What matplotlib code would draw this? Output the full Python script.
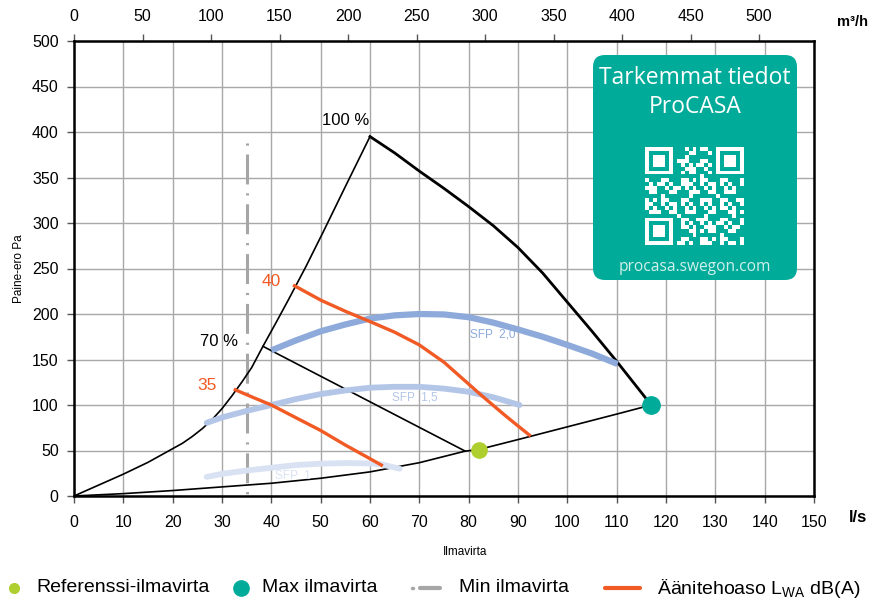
import numpy as np
import matplotlib
matplotlib.use("Agg")
import matplotlib.pyplot as plt
from matplotlib.patches import FancyBboxPatch

plt.rcParams['font.family'] = ['Liberation Sans', 'DejaVu Sans']

# ---------------- data ----------------
x_ticks = list(range(0, 151, 10))
y_ticks = list(range(0, 501, 50))
top_ticks = list(range(0, 501, 50))

rise_x = [0, 2.5, 5, 7.5, 10, 12.5, 15, 17.5, 20, 22, 24, 26, 28, 30, 32, 34, 36, 38.3, 41, 43.4, 47, 50.5, 55, 60]
rise_y = [0, 6, 12, 18, 24, 30.5, 37, 44.5, 52, 58, 65.5, 74, 84, 96, 110, 125, 141, 164.5, 191, 215, 252, 290, 340, 395]

fan100_x = [60, 65, 70, 75, 80, 85, 90, 95, 100, 105, 110, 113.5, 117]
fan100_y = [395, 377, 357, 338, 318, 297, 273, 245, 213, 181, 148, 124, 100]

sys_x = [0, 10, 20, 30, 40, 50, 60, 70, 79.3, 82, 90, 100, 110, 117]
sys_y = [0, 2.6, 6, 10, 14, 19.5, 26.5, 36.6, 49.3, 51, 62, 76, 90, 100]

fan70_x = [38.3, 79.3]
fan70_y = [164.5, 49.3]

lw40_x = [44.7, 50.1, 55, 60, 65, 70, 75, 80, 82.5, 85, 87.5, 90, 92.3]
lw40_y = [231, 215, 203, 191.7, 180, 166, 147, 123, 111, 99.5, 88, 77, 67]
lw35_x = [32.7, 36, 40, 45, 50, 55, 60, 62.3]
lw35_y = [116.7, 109, 100, 86, 72, 56, 41, 34]

sfp20_x = [40, 45, 50, 55, 60, 65, 70, 75, 80, 85, 90, 95, 100, 105, 110.2]
sfp20_y = [160, 171, 181, 188.5, 195, 198.5, 200, 199.5, 196.5, 190.5, 183, 175, 166, 156.5, 145]
sfp15_x = [26.9, 30.2, 35, 40, 45, 50, 55, 60, 65, 70, 75, 80, 85, 90.3]
sfp15_y = [80.4, 86.6, 93.5, 100, 106.5, 112, 116, 119, 120, 120, 118, 114.5, 108.5, 100]
sfp10_x = [26.9, 30.2, 35, 40, 45, 50, 55, 60, 62.3, 66]
sfp10_y = [21, 24.5, 28, 31, 34, 35.5, 36.2, 35.8, 34.8, 30]

min_flow = 35
min_top = 388
ref_point = (82, 50.5)
max_point = (117, 100)

# ---------------- colours ----------------
ORANGE = '#f15a24'
TEAL = '#00ab9a'
LIME = '#afcf2f'
GRIDC = '#a8a8a8'
C20, C15, C10 = '#8eaadb', '#b4c6e7', '#d9e2f3'
MINC = '#a6a6a6'

fig = plt.figure(figsize=(8.88, 6.03), dpi=100)
ax = fig.add_axes([74/888, 1-496/603, 740/888, 455/603])
ax.set_xlim(0, 150)
ax.set_ylim(0, 500)
ax.set_xticks(x_ticks)
ax.set_yticks(y_ticks)
ax.grid(True, color=GRIDC, lw=1.0)
ax.set_axisbelow(True)
for s in ax.spines.values():
    s.set_color('black')
    s.set_linewidth(1.8)
ax.tick_params(axis='both', direction='out', length=5, width=1, color='#555555',
               labelsize=11.5, pad=6)
ax.tick_params(axis='x', pad=9)

sec = ax.secondary_xaxis('top', functions=(lambda v: v * 3.6, lambda v: v / 3.6))
sec.set_xticks(top_ticks)
sec.tick_params(direction='out', length=5, width=1, color='#555555', labelsize=11.5, pad=7)
sec.spines['top'].set_visible(False)

ax.set_ylabel('Paine-ero Pa', fontsize=8.5, labelpad=5)
fig.text(465/888, 1-552/603, 'Ilmavirta', fontsize=8.5, ha='center', va='center')
fig.text(858/888, 1-518/603, 'l/s', fontsize=12, fontweight='bold', ha='center', va='center')
fig.text(852/888, 1-22/603, 'm³/h', fontsize=10.5, fontweight='bold', ha='center', va='center')

# min airflow (drawn from top down so the pattern starts with a dot)
ax.plot([min_flow, min_flow], [min_top, 0], color=MINC, lw=2.2,
        dashes=(0.7, 2.9, 9.8, 2.9), zorder=2)

# black curves
ax.plot(rise_x, rise_y, color='black', lw=1.2, zorder=3)
ax.plot(fan100_x, fan100_y, color='black', lw=2.0, zorder=3)
ax.plot(sys_x, sys_y, color='black', lw=1.2, zorder=3)
ax.plot(fan70_x, fan70_y, color='black', lw=1.2, zorder=3)

# SFP curves
ax.plot(sfp20_x, sfp20_y, color=C20, lw=4.5, solid_capstyle='butt', zorder=4)
ax.plot(sfp15_x, sfp15_y, color=C15, lw=4.2, solid_capstyle='round', zorder=4)
ax.plot(sfp10_x, sfp10_y, color=C10, lw=4.2, solid_capstyle='round', zorder=4)
ax.text(84.8, 177, 'SFP  2,0', color=C20, fontsize=8.5, ha='center', va='center', zorder=6)
ax.text(69, 108, 'SFP  1,5', color=C15, fontsize=8.5, ha='center', va='center', zorder=6)
ax.text(44.3, 22, 'SFP  1', color=C10, fontsize=8.5, ha='center', va='center', zorder=6)

# sound lines
ax.plot(lw40_x, lw40_y, color=ORANGE, lw=2.4, zorder=5)
ax.plot(lw35_x, lw35_y, color=ORANGE, lw=2.4, zorder=5)
ax.text(39.9, 236, '40', color=ORANGE, fontsize=12.5, ha='center', va='center')
ax.text(26.9, 121, '35', color=ORANGE, fontsize=12.5, ha='center', va='center')
ax.text(55, 413, '100 %', color='black', fontsize=12, ha='center', va='center')
ax.text(29.3, 170, '70 %', color='black', fontsize=12, ha='center', va='center')

# points
ax.plot(*ref_point, 'o', color=LIME, ms=11, zorder=7, clip_on=False)
ax.plot(*max_point, 'o', color=TEAL, ms=12.5, zorder=7, clip_on=False)

# ---------------- overlay (box + legend) ----------------
ov = fig.add_axes([0, 0, 1, 1], zorder=10)
ov.axis('off')
ov.patch.set_alpha(0)

box = FancyBboxPatch((593, 55), 204, 225, boxstyle='round,pad=0,rounding_size=12',
                     fc=TEAL, ec='none')
ov.add_patch(box)
ov.text(695, 78, 'Tarkemmat tiedot', color='white', fontsize=16.5,
        family=['Open Sans', 'DejaVu Sans'], ha='center', va='center')
ov.text(695, 107, 'ProCASA', color='white', fontsize=16.5,
        family=['Open Sans', 'DejaVu Sans'], ha='center', va='center')
ov.text(695, 267, 'procasa.swegon.com', color='#d2f0ea', fontsize=11.2,
        family=['Open Sans', 'DejaVu Sans'], ha='center', va='center')

# decorative QR-like pattern
n = 25
q = np.zeros((n, n))
ii, jj = np.meshgrid(np.arange(n), np.arange(n), indexing='ij')
q[((ii * 7 + jj * 13 + ii * jj) % 5) < 2] = 1
q[((ii * 3 + jj * 5) % 7) == 0] = 1
def finder(r, c):
    q[max(r-1, 0):r+8, max(c-1, 0):c+8] = 0
    q[r:r+7, c:c+7] = 1
    q[r+1:r+6, c+1:c+6] = 0
    q[r+2:r+5, c+2:c+5] = 1
finder(0, 0); finder(0, n-7); finder(n-7, 0)
rgba = np.zeros((n, n, 4))
rgba[..., :3] = 1
rgba[..., 3] = q
ov.imshow(rgba, extent=(645, 744, 245, 147), interpolation='nearest', aspect='auto', zorder=11)
ov.set_xlim(0, 888)
ov.set_ylim(603, 0)

# legend
ly = 588
lfs = 14
ov.plot([14], [ly], 'o', color=LIME, ms=7)
ov.text(36, ly, 'Referenssi-ilmavirta', fontsize=lfs, va='center', ha='left')
ov.plot([241], [ly], 'o', color=TEAL, ms=11)
ov.text(262, ly, 'Max ilmavirta', fontsize=lfs, va='center', ha='left')
ov.plot([412, 413], [ly, ly], color=MINC, lw=2.5, solid_capstyle='round')
ov.plot([420, 440], [ly, ly], color=MINC, lw=3, solid_capstyle='round')
ov.text(459, ly, 'Min ilmavirta', fontsize=lfs, va='center', ha='left')
ov.plot([605, 640], [ly, ly], color=ORANGE, lw=3, solid_capstyle='round')
ov.text(657, ly, r'Äänitehoaso L$_{\mathregular{WA}}$ dB(A)', fontsize=lfs, va='center', ha='left')

fig.savefig('out.png', dpi=100)
